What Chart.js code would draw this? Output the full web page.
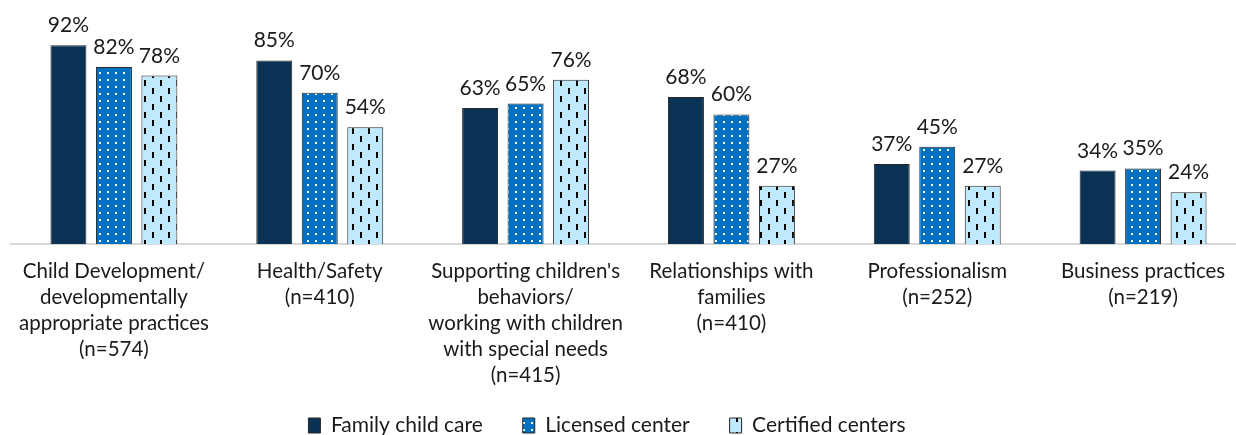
<!DOCTYPE html>
<html>
<head>
<meta charset="utf-8">
<script src="https://cdn.jsdelivr.net/npm/chart.js@4.4.1/dist/chart.umd.min.js"></script>
<style>
  html, body { margin: 0; padding: 0; background: #fff; overflow: hidden; }
  #wrap { width: 1236px; height: 435px; overflow: hidden; }
  #myChart { display: block; }
</style>
</head>
<body>
<div id="wrap"><canvas id="myChart" width="1250" height="435"></canvas></div>
<script>
const categories = [
  ["Child Development/", "developmentally", "appropriate practices", "(n=574)"],
  ["Health/Safety", "(n=410)"],
  ["Supporting children's", "behaviors/", "working with children", "with special needs", "(n=415)"],
  ["Relationships with", "families", "(n=410)"],
  ["Professionalism", "(n=252)"],
  ["Business practices", "(n=219)"],
];
const seriesNames = ["Family child care", "Licensed center", "Certified centers"];
const familyChildCare = [92, 85, 63, 68, 37, 34];
const licensedCenter = [82, 70, 65, 60, 45, 35];
const certifiedCenters = [78, 54, 76, 27, 27, 24];

const TEXT = "#1a1a1a";
const FONT = "Lato";

const ctx = document.getElementById("myChart");
const ctx2d = ctx.getContext("2d");

// small repeating tiles for the hatched fills
function makePattern(w, h, bg, paint) {
  const tile = document.createElement("canvas");
  tile.width = w;
  tile.height = h;
  const t = tile.getContext("2d");
  t.fillStyle = bg;
  t.fillRect(0, 0, w, h);
  paint(t);
  return ctx2d.createPattern(tile, "repeat");
}

const dots = makePattern(8, 7, "#0070c0", (t) => {
  t.fillStyle = "#ffffff";
  t.fillRect(3, 2, 2, 2);
});

const dashes = makePattern(16, 16, "#bfe9fc", (t) => {
  t.fillStyle = "#000000";
  t.fillRect(0, 0, 2, 6);
  t.fillRect(8, 8, 2, 6);
});

const valueLabels = {
  id: "valueLabels",
  afterDatasetsDraw(chart) {
    const c = chart.ctx;
    c.save();
    c.font = "21px " + FONT;
    c.fillStyle = TEXT;
    c.textAlign = "center";
    c.textBaseline = "alphabetic";
    chart.data.datasets.forEach((ds, i) => {
      chart.getDatasetMeta(i).data.forEach((bar, j) => {
        c.fillText(ds.data[j] + "%", bar.x, bar.y - 13);
      });
    });
    c.restore();
  },
};

const data = {
  labels: categories,
  datasets: [
    {
      label: seriesNames[0],
      data: familyChildCare,
      backgroundColor: "#0a3254",
    },
    {
      label: seriesNames[1],
      data: licensedCenter,
      backgroundColor: dots,
    },
    {
      label: seriesNames[2],
      data: certifiedCenters,
      backgroundColor: dashes,
    },
  ],
};
data.datasets.forEach((ds) => {
  ds.borderColor = "#262626";
  ds.borderWidth = 1;
  ds.categoryPercentage = 0.663;
  ds.barPercentage = 0.79;
});

const config = {
  type: "bar",
  data: data,
  plugins: [valueLabels],
  options: {
    responsive: false,
    animation: false,
    layout: {
      padding: { top: 28, left: 11, right: 4, bottom: -11 },
    },
    plugins: {
      tooltip: { enabled: false },
      legend: {
        position: "bottom",
        labels: {
          boxWidth: 12,
          boxHeight: 15,
          padding: 13,
          color: TEXT,
          font: { family: FONT, size: 21 },
          generateLabels(chart) {
            const items = Chart.defaults.plugins.legend.labels.generateLabels(chart);
            items.forEach((it, i) => {
              // trailing space keeps the entries spread apart
              it.text = it.text + (i === items.length - 1 ? "        " : "     ");
              it.lineWidth = 1;
              it.strokeStyle = "#262626";
            });
            return items;
          },
        },
      },
    },
    scales: {
      x: {
        grid: { display: false, drawTicks: false },
        border: { display: true, color: "#d9d9d9", width: 2 },
        ticks: {
          color: TEXT,
          padding: 14,
          autoSkip: false,
          maxRotation: 0,
          font: { family: FONT, size: 20.5, lineHeight: "26px" },
        },
      },
      y: {
        display: false,
        min: 0,
        max: 100,
      },
    },
  },
};

new Chart(ctx, config);
</script>
</body>
</html>
